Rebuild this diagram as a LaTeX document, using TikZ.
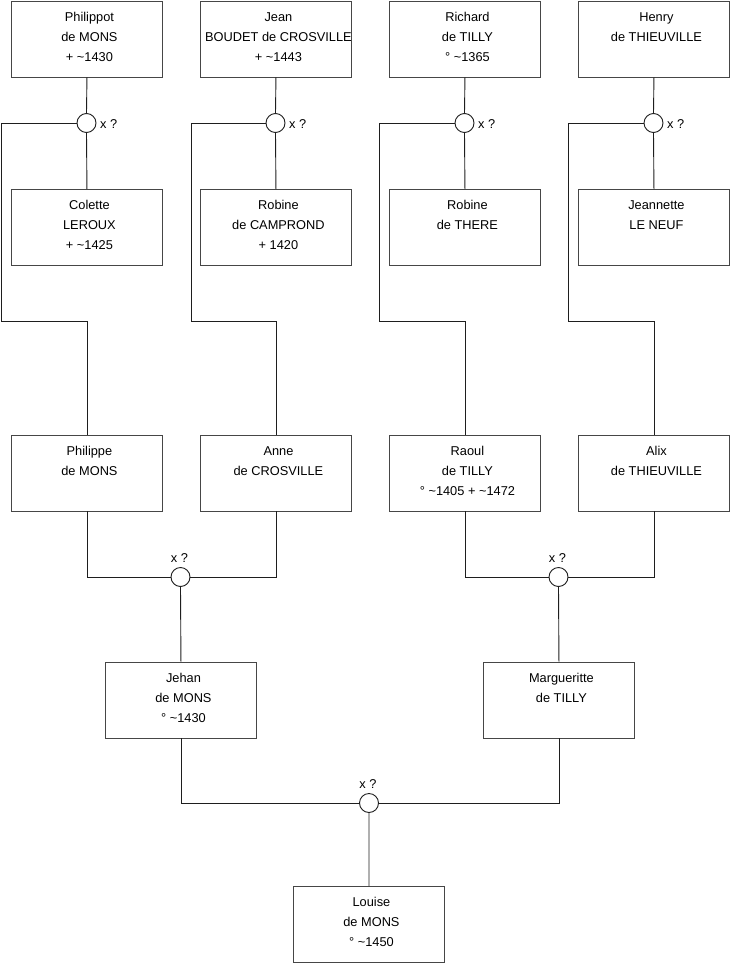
\documentclass[tikz,border=0pt]{standalone}
\usepackage{fontspec}
\setmainfont{Liberation Sans}
\definecolor{boxcol}{RGB}{70,70,70}
\definecolor{linecol}{RGB}{30,30,30}
\tikzset{
  box/.style={draw=boxcol, line width=0.9bp, fill=white, minimum width=151bp, minimum height=76bp, inner sep=0pt, anchor=north west},
  txt/.style={anchor=base, inner sep=0pt, font=\fontsize{12.8bp}{20bp}\selectfont},
  union/.style={circle, draw=linecol, line width=0.9bp, fill=white, minimum size=19bp, inner sep=0pt},
  ux/.style={inner sep=0pt, font=\fontsize{12.8bp}{20bp}\selectfont},
  conn/.style={draw=linecol, line width=0.9bp},
}
\newcommand\famnode[4]{%
  \node[box] (#1) at (#2,#3) {};
  \node[txt] (#1t) at ([xshift=2.5bp,yshift=-20.5bp]#1.north) {\parbox[t]{151bp}{\centering #4}};
}
\begin{document}
\begin{tikzpicture}[x=1bp,y=-1bp]
\useasboundingbox (0,0) rectangle (740,975);
% row 1
\famnode{b1}{11}{0.5}{Philippot\\de MONS\\+ \textasciitilde1430}
\famnode{b2}{200}{0.5}{Jean\\BOUDET de CROSVILLE\\+ \textasciitilde1443}
\famnode{b3}{389}{0.5}{Richard\\de TILLY\\° \textasciitilde1365}
\famnode{b4}{578}{0.5}{Henry\\de THIEUVILLE}
% row 2
\famnode{b5}{11}{189}{Colette\\LEROUX\\+ \textasciitilde1425}
\famnode{b6}{200}{189}{Robine\\de CAMPROND\\+ 1420}
\famnode{b7}{389}{189}{Robine\\de THERE}
\famnode{b8}{578}{189}{Jeannette\\LE NEUF}
% row 3
\famnode{b9}{11}{434.5}{Philippe\\de MONS}
\famnode{b10}{200}{434.5}{Anne\\de CROSVILLE}
\famnode{b11}{389}{434.5}{Raoul\\de TILLY\\° \textasciitilde1405 + \textasciitilde1472}
\famnode{b12}{578}{434.5}{Alix\\de THIEUVILLE}
% row 4
\famnode{b13}{105}{661.5}{Jehan\\de MONS\\° \textasciitilde1430}
\famnode{b14}{483}{661.5}{Margueritte\\de TILLY}
% row 5
\famnode{b15}{293}{886}{Louise\\de MONS\\° \textasciitilde1450}
% union circles
\node[union] (c1) at (86.5,123) {};
\node[union] (c2) at (275.5,123) {};
\node[union] (c3) at (464.5,123) {};
\node[union] (c4) at (653.5,123) {};
\node[union] (c5) at (180.5,577) {};
\node[union] (c6) at (558.5,577) {};
\node[union] (c7) at (369,803) {};
% labels
\node[ux, anchor=base west] (x1) at (100,128) {x ?};
\node[ux, anchor=base west] (x2) at (289,128) {x ?};
\node[ux, anchor=base west] (x3) at (478,128) {x ?};
\node[ux, anchor=base west] (x4) at (667,128) {x ?};
\node[ux, anchor=base] (x5) at (179.5,562.5) {x ?};
\node[ux, anchor=base] (x6) at (557.5,562.5) {x ?};
\node[ux, anchor=base] (x7) at (368,788) {x ?};
% corner coordinates
\coordinate (k1) at (1,321.5);
\coordinate (k2) at (191,321.5);
\coordinate (k3) at (379.5,321.5);
\coordinate (k4) at (568.5,321.5);
% connectors
\draw[conn] (b1.south) -- (c1.north);
\draw[conn] (c1.south) -- (b5.north);
\draw[conn] (b2.south) -- (c2.north);
\draw[conn] (c2.south) -- (b6.north);
\draw[conn] (b3.south) -- (c3.north);
\draw[conn] (c3.south) -- (b7.north);
\draw[conn] (b4.south) -- (c4.north);
\draw[conn] (c4.south) -- (b8.north);
\draw[conn] (c1.west) -| (k1) -| (b9.north);
\draw[conn] (c2.west) -| (k2) -| (b10.north);
\draw[conn] (c3.west) -| (k3) -| (b11.north);
\draw[conn] (c4.west) -| (k4) -| (b12.north);
\draw[conn] (b9.south) |- (c5.west);
\draw[conn] (b10.south) |- (c5.east);
\draw[conn] (c5.south) -- (b13.north);
\draw[conn] (b11.south) |- (c6.west);
\draw[conn] (b12.south) |- (c6.east);
\draw[conn] (c6.south) -- (b14.north);
\draw[conn] (b13.south) |- (c7.west);
\draw[conn] (b14.south) |- (c7.east);
\draw[conn] (c7.south) -- (b15.north);
\end{tikzpicture}
\end{document}
